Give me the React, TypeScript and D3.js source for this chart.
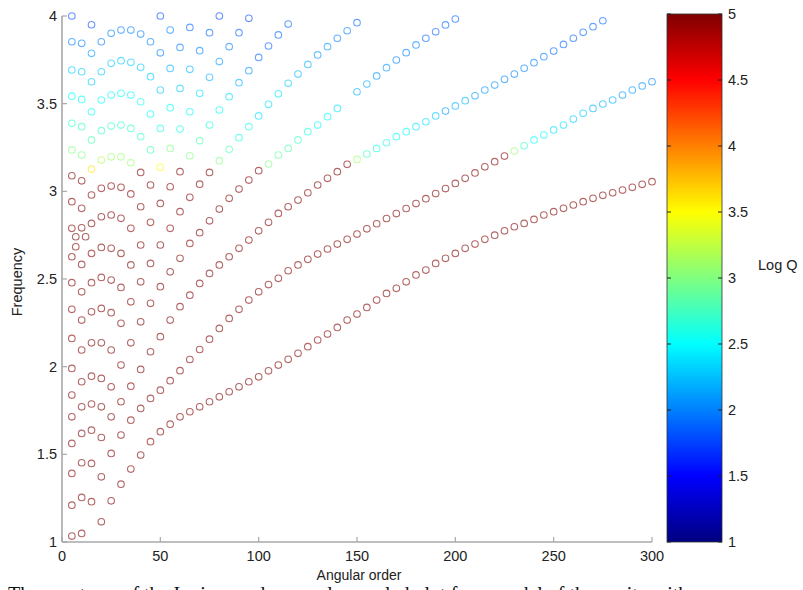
import React from 'react';
import * as d3 from 'd3';

// ---- axis ticks ----
const X_TICKS = [0, 50, 100, 150, 200, 250, 300];
const Y_TICKS = [1, 1.5, 2, 2.5, 3, 3.5, 4];
const Q_TICKS = [1, 1.5, 2, 2.5, 3, 3.5, 4, 4.5, 5];

// ---- low angular orders: each column lists frequencies (logQ≈5) and [frequency, logQ] pairs ----
const LOW_ORDERS = [5, 7, 10, 12, 15, 20, 25, 30, 35, 40, 45, 50, 55, 60, 65, 70, 75, 80, 85, 90, 95, 100, 105];

const LOW_RED: number[][] = [
  [3.089, 2.941, 2.789, 2.627, 2.479, 2.327, 2.161, 1.99, 1.838, 1.714, 1.562, 1.391, 1.21, 1.034],
  [2.741, 2.684],
  [3.06, 2.903, 2.792, 2.583, 2.427, 2.266, 2.095, 1.914, 1.771, 1.619, 1.452, 1.254, 1.049],
  [2.741],
  [2.979, 2.817, 2.646, 2.479, 2.313, 2.136, 1.946, 1.787, 1.638, 1.448, 1.23],
  [3.017, 2.855, 2.68, 2.509, 2.332, 2.136, 1.933, 1.771, 1.596, 1.372, 1.115],
  [3.03, 2.865, 2.675, 2.494, 2.308, 2.095, 1.885, 1.714, 1.505, 1.235],
  [3.023, 2.846, 2.646, 2.452, 2.247, 2.009, 1.8, 1.61, 1.33],
  [2.985, 2.789, 2.58, 2.37, 2.136, 1.889, 1.695, 1.416],
  [3.108, 2.912, 2.694, 2.484, 2.256, 1.984, 1.762, 1.496],
  [3.036, 2.823, 2.589, 2.361, 2.085, 1.819, 1.572],
  [2.931, 2.694, 2.456, 2.171, 1.866, 1.629],
  [3.026, 2.789, 2.541, 2.266, 1.92, 1.672],
  [3.112, 2.884, 2.618, 2.342, 1.977, 1.714],
  [2.966, 2.703, 2.408, 2.041, 1.743],
  [3.041, 2.764, 2.475, 2.098, 1.771],
  [3.108, 2.832, 2.532, 2.157, 1.8],
  [2.899, 2.58, 2.218, 1.828],
  [2.96, 2.627, 2.275, 1.857],
  [3.013, 2.675, 2.327, 1.885],
  [3.064, 2.722, 2.38, 1.914],
  [3.118, 2.775, 2.427, 1.942],
  [2.823, 2.468, 1.976],
];

const LOW_COOL: [number, number][][] = [
  [[4.0, 1.8], [3.853, 2.0], [3.692, 2.3], [3.543, 2.5], [3.388, 2.7], [3.236, 3.0]],
  [],
  [[3.844, 2.0], [3.682, 2.3], [3.524, 2.5], [3.369, 2.7], [3.207, 3.0]],
  [],
  [[3.95, 1.8], [3.787, 2.1], [3.625, 2.3], [3.454, 2.5], [3.293, 2.8], [3.127, 3.6]],
  [[3.853, 2.0], [3.682, 2.3], [3.521, 2.5], [3.346, 2.7], [3.178, 3.2]],
  [[3.901, 2.0], [3.73, 2.3], [3.549, 2.5], [3.372, 2.7], [3.197, 3.1]],
  [[3.92, 2.0], [3.745, 2.3], [3.559, 2.5], [3.378, 2.7], [3.197, 3.1]],
  [[3.92, 2.0], [3.736, 2.3], [3.549, 2.5], [3.359, 2.7], [3.163, 3.1]],
  [[3.897, 2.0], [3.707, 2.3], [3.511, 2.6], [3.312, 2.7]],
  [[3.853, 2.0], [3.654, 2.3], [3.441, 2.5], [3.236, 2.8]],
  [[4.0, 1.8], [3.79, 2.0], [3.578, 2.3], [3.359, 2.6], [3.137, 3.5]],
  [[3.92, 2.0], [3.701, 2.2], [3.477, 2.5], [3.245, 3.0]],
  [[3.821, 2.0], [3.587, 2.3], [3.355, 2.6]],
  [[3.935, 1.9], [3.696, 2.2], [3.454, 2.5], [3.203, 3.0]],
  [[3.802, 2.0], [3.559, 2.4], [3.289, 2.8]],
  [[3.905, 1.9], [3.65, 2.2], [3.378, 2.6]],
  [[4.0, 1.8], [3.74, 2.1], [3.464, 2.5], [3.175, 3.0]],
  [[3.825, 2.0], [3.54, 2.4], [3.24, 2.8]],
  [[3.905, 1.9], [3.62, 2.2], [3.306, 2.6]],
  [[3.987, 1.8], [3.688, 2.1], [3.369, 2.6]],
  [[3.764, 1.9], [3.43, 2.4]],
  [[3.829, 1.9], [3.496, 2.4], [3.156, 3.0]],
];

// ---- high angular orders: branches ----
const HIGH_ORDERS = [110, 115, 120, 125, 130, 135, 140, 145, 150, 155, 160, 165, 170, 175, 180, 185, 190, 195, 200,
  205, 210, 215, 220, 225, 230, 235, 240, 245, 250, 255, 260, 265, 270, 275, 280, 285, 290, 295, 300];

const BRANCH_1 = [2.009, 2.042, 2.076, 2.114, 2.152, 2.186, 2.224, 2.266, 2.3, 2.338, 2.38, 2.418, 2.447, 2.484, 2.523,
  2.551, 2.589, 2.618, 2.646, 2.675, 2.699, 2.726, 2.75, 2.775, 2.798, 2.817, 2.84, 2.865, 2.884, 2.903, 2.922,
  2.941, 2.96, 2.977, 2.992, 3.007, 3.023, 3.04, 3.055];

const BRANCH_2 = [2.504, 2.547, 2.58, 2.612, 2.642, 2.671, 2.699, 2.726, 2.756, 2.786, 2.815, 2.845, 2.873, 2.902, 2.93,
  2.958, 2.987, 3.016, 3.045, 3.074, 3.105, 3.14, 3.169, 3.201, 3.23, 3.26, 3.293, 3.321, 3.35, 3.378, 3.412,
  3.445, 3.473, 3.498, 3.521, 3.549, 3.578, 3.601, 3.625];
const BRANCH_2_LOGQ = [5, 5, 5, 5, 5, 5, 5, 5, 5, 5, 5, 5, 5, 5, 5, 5, 5, 5, 5, 5, 5, 5, 5, 5,
  3.1, 2.7, 2.5, 2.5, 2.4, 2.4, 2.3, 2.3, 2.2, 2.2, 2.2, 2.1, 2.1, 2.1, 2.0];

const BRANCH_3 = [2.874, 2.912, 2.95, 2.992, 3.036, 3.074, 3.112, 3.154, 3.182, 3.213, 3.245, 3.277, 3.312, 3.34, 3.369,
  3.397, 3.43, 3.458, 3.487, 3.517, 3.545, 3.578, 3.606, 3.639, 3.669, 3.702, 3.734, 3.768, 3.8, 3.838, 3.873,
  3.907, 3.939, 3.973];
const BRANCH_3_LOGQ = [5, 5, 5, 5, 5, 5, 5, 5, 3.1, 2.7, 2.6, 2.6, 2.5, 2.5, 2.4, 2.4, 2.3, 2.1, 2.2, 2.2, 2.1, 2.1,
  2.1, 2.0, 2.0, 2.0, 2.0, 2.0, 1.9, 1.9, 1.9, 1.9, 1.9, 1.9];

const BRANCH_4 = [3.207, 3.245, 3.293, 3.34, 3.378, 3.426, 3.473, null, 3.568, 3.612, 3.658, 3.705, 3.749, 3.791,
  3.835, 3.873, 3.91, 3.949, 3.983];
const BRANCH_4_LOGQ = [2.9, 2.8, 2.7, 2.6, 2.5, 2.5, 2.4, 2.4, 2.2, 2.2, 2.1, 2.1, 2.0, 2.0, 2.0, 1.9, 1.9, 1.9, 1.9];

const BRANCH_5 = [3.556, 3.616, 3.669, 3.724, 3.778, 3.825, 3.873, 3.916, 3.962];
const BRANCH_5_LOGQ = [2.4, 2.3, 2.2, 2.2, 2.1, 2.1, 2.0, 2.0, 1.9];

const BRANCH_6 = [3.892, 3.954];
const BRANCH_6_LOGQ = [1.9, 1.9];

// ---- colour map (MATLAB jet) ----
const jet = (t: number) => {
  const c = (v: number) => Math.round(255 * Math.max(0, Math.min(1, v)));
  return `rgb(${c(1.5 - Math.abs(4 * t - 3))},${c(1.5 - Math.abs(4 * t - 2))},${c(1.5 - Math.abs(4 * t - 1))})`;
};

type Pt = { o: number; f: number; q: number };

function buildPoints(): Pt[] {
  const pts: Pt[] = [];
  LOW_ORDERS.forEach((o, i) => {
    LOW_RED[i].forEach((f) => pts.push({ o, f, q: 5 }));
    LOW_COOL[i].forEach(([f, q]) => pts.push({ o, f, q }));
  });
  const add = (freqs: (number | null)[], qs: number[] | null) =>
    freqs.forEach((f, i) => {
      if (f == null) return;
      pts.push({ o: HIGH_ORDERS[i], f, q: qs ? qs[i] : 5 });
    });
  add(BRANCH_1, null);
  add(BRANCH_2, BRANCH_2_LOGQ);
  add(BRANCH_3, BRANCH_3_LOGQ);
  add(BRANCH_4, BRANCH_4_LOGQ);
  add(BRANCH_5, BRANCH_5_LOGQ);
  add(BRANCH_6, BRANCH_6_LOGQ);
  return pts;
}

export default function App() {
  const W = 803, H = 590;
  const L = 62, R = 652, T = 16, B = 542;
  const x = d3.scaleLinear().domain([0, 300]).range([L, R]);
  const y = d3.scaleLinear().domain([1, 4]).range([B, T]);
  const color = d3.scaleSequential((t: number) => jet(t)).domain([1, 5]);
  const cbX0 = 667, cbX1 = 722, cbT = 14, cbB = 542;
  const qy = d3.scaleLinear().domain([1, 5]).range([cbB, cbT]);
  const pts = buildPoints();
  const stops = d3.range(0, 65).map((i) => i / 64);
  const font = '"Liberation Sans", Arial, Helvetica, sans-serif';
  const axisColor = '#a8a8a8';
  const textColor = '#222';

  React.useEffect(() => {
    document.body.style.margin = '0';
  }, []);

  return (
    <svg width={W} height={H} style={{ position: 'absolute', left: 0, top: 0, background: '#fff' }}
      fontFamily={font}>
      <defs>
        <linearGradient id="jetbar" x1="0" y1="1" x2="0" y2="0">
          {stops.map((t) => (
            <stop key={t} offset={t} stopColor={jet(t)} />
          ))}
        </linearGradient>
      </defs>

      {/* data points */}
      <g fill="none" strokeWidth={1.1} strokeOpacity={0.6}>
        {pts.map((p, i) => (
          <circle key={i} cx={x(p.o)} cy={y(p.f)} r={3.3} stroke={color(p.q)} />
        ))}
      </g>

      {/* axes */}
      <line x1={L} x2={L} y1={T} y2={B} stroke={axisColor} strokeWidth={1.6} />
      <line x1={L} x2={R} y1={B} y2={B} stroke={axisColor} strokeWidth={1.6} />
      {Y_TICKS.map((t) => (
        <g key={'y' + t}>
          <line x1={L} x2={L + 5} y1={y(t)} y2={y(t)} stroke={axisColor} strokeWidth={1.2} />
          <text x={L - 5} y={y(t)} dy="0.35em" textAnchor="end" fontSize={14.5} fill={textColor}>{t}</text>
        </g>
      ))}
      {X_TICKS.map((t) => (
        <g key={'x' + t}>
          <line x1={x(t)} x2={x(t)} y1={B} y2={B - 5} stroke={axisColor} strokeWidth={1.2} />
          <text x={x(t)} y={561} textAnchor="middle" fontSize={14.5} fill={textColor}>{t}</text>
        </g>
      ))}
      <text transform={`translate(22,${(T + B) / 2 + 3}) rotate(-90)`} textAnchor="middle" fontSize={14.5}
        fill={textColor}>Frequency</text>
      <text x={(L + R) / 2 + 2} y={580} textAnchor="middle" fontSize={14} fill={textColor}>Angular order</text>

      {/* colour bar */}
      <rect x={cbX0} y={cbT} width={cbX1 - cbX0} height={cbB - cbT} fill="url(#jetbar)" stroke="#333" strokeWidth={0.8} />
      {Q_TICKS.map((t) => (
        <g key={'q' + t}>
          <line x1={cbX1 - 4} x2={cbX1} y1={qy(t)} y2={qy(t)} stroke="#222" strokeWidth={1} />
          <line x1={cbX0} x2={cbX0 + 4} y1={qy(t)} y2={qy(t)} stroke="#222" strokeWidth={1} />
          <text x={cbX1 + 6} y={qy(t)} dy="0.35em" fontSize={14.5} fill={textColor}>{t}</text>
        </g>
      ))}
      <text x={758} y={270} fontSize={14.5} fill={textColor}>Log Q</text>

      {/* cropped caption below the figure */}
      <text x={8} y={601} fontSize={20} fontFamily='"Liberation Serif", "Times New Roman", serif' fill="#111">
        The spectrum of the Ionian modes, as a log-scaled plot for a model of the cavity with
      </text>
    </svg>
  );
}
